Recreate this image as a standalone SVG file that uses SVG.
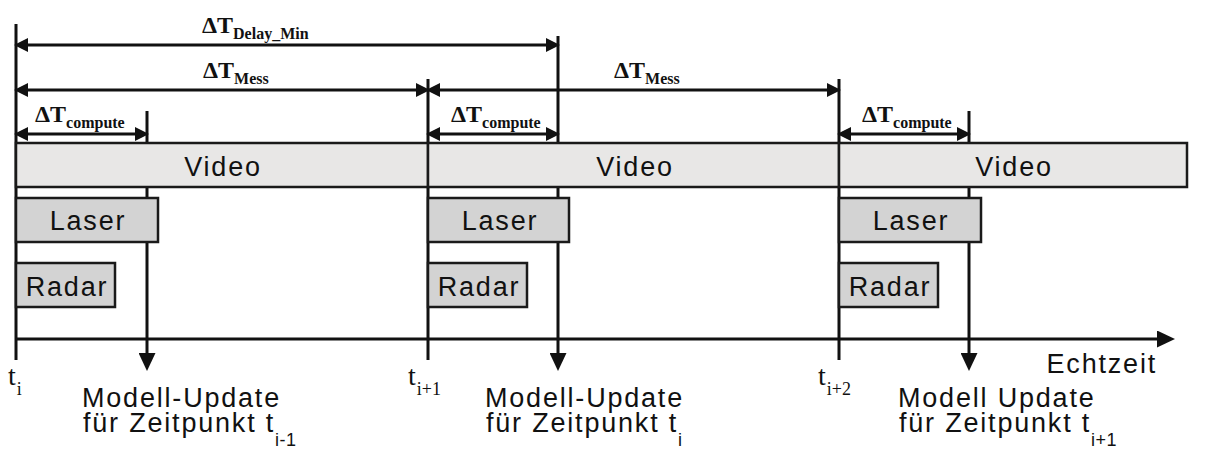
<svg xmlns="http://www.w3.org/2000/svg" width="1205" height="465" viewBox="0 0 1205 465">
<defs>
<marker id="ah" markerUnits="userSpaceOnUse" markerWidth="14" markerHeight="14" refX="6" refY="7" orient="auto-start-reverse"><path d="M0,0 L14,7 L0,14 z" fill="#111"/></marker>
<marker id="ahd" markerUnits="userSpaceOnUse" markerWidth="18" markerHeight="17" refX="9" refY="8.5" orient="auto"><path d="M0,0 L18,8.5 L0,17 z" fill="#111"/></marker>
<style>
.ln{stroke:#111;stroke-width:3;fill:none}
.dim{stroke:#111;stroke-width:3;fill:none;marker-start:url(#ah);marker-end:url(#ah)}
.dn{stroke:#111;stroke-width:3;fill:none;marker-end:url(#ahd)}
.video{fill:#e8e7e6;stroke:#1a1a1a;stroke-width:2.5}
.sens{fill:#d3d3d3;stroke:#1a1a1a;stroke-width:2.5}
.bl{font-family:"Liberation Sans",Arial,sans-serif;font-size:27px;letter-spacing:1.8px;fill:#111}
.c{text-anchor:middle}
.dt{font-family:"Liberation Serif","Times New Roman",serif;font-weight:bold;font-size:24px;fill:#111}
.dts{font-size:16px}
.tm{font-family:"Liberation Serif","Times New Roman",serif;font-size:28px;fill:#111}
.tms{font-size:18px}
.bs{font-size:18px;letter-spacing:0.5px}
</style>
</defs>
<g id="connectors">
<line class="ln" x1="16" y1="24" x2="16" y2="360"/>
<line class="ln" x1="428" y1="79" x2="428" y2="360"/>
<line class="ln" x1="839" y1="79" x2="839" y2="360"/>
<line class="dn" x1="147" y1="111" x2="147" y2="362"/>
<line class="dn" x1="558" y1="36" x2="558" y2="362"/>
<line class="dn" x1="969" y1="111" x2="969" y2="362"/>
<line class="ln" x1="16" y1="339" x2="1166" y2="339" style="marker-end:url(#ahd)"/>
<line class="dim" x1="22" y1="45" x2="552" y2="45"/>
<line class="dim" x1="22" y1="90" x2="422" y2="90"/>
<line class="dim" x1="434" y1="90" x2="833" y2="90"/>
<line class="dim" x1="22" y1="134" x2="141" y2="134"/>
<line class="dim" x1="434" y1="134" x2="552" y2="134"/>
<line class="dim" x1="845" y1="134" x2="963" y2="134"/>
</g>
<g id="video1"><rect class="video" x="16" y="143" width="412" height="44"/><text class="bl c" x="223" y="176">Video</text></g>
<g id="video2"><rect class="video" x="428" y="143" width="411" height="44"/><text class="bl c" x="635" y="176">Video</text></g>
<g id="video3"><rect class="video" x="839" y="143" width="348" height="44"/><text class="bl c" x="1014" y="176">Video</text></g>
<g id="laser1"><rect class="sens" x="16" y="198" width="142" height="44"/><text class="bl c" x="88" y="230">Laser</text></g>
<g id="laser2"><rect class="sens" x="428" y="198" width="141" height="44"/><text class="bl c" x="500" y="230">Laser</text></g>
<g id="laser3"><rect class="sens" x="839" y="198" width="142" height="44"/><text class="bl c" x="911" y="230">Laser</text></g>
<g id="radar1"><rect class="sens" x="16" y="263" width="99" height="44"/><text class="bl c" x="67" y="296">Radar</text></g>
<g id="radar2"><rect class="sens" x="428" y="263" width="99" height="44"/><text class="bl c" x="479" y="296">Radar</text></g>
<g id="radar3"><rect class="sens" x="839" y="263" width="99" height="44"/><text class="bl c" x="890" y="296">Radar</text></g>
<g id="labels">
<text class="dt" x="202" y="33">ΔT<tspan class="dts" dy="6">Delay_Min</tspan></text>
<text class="dt" x="203" y="78">ΔT<tspan class="dts" dy="6">Mess</tspan></text>
<text class="dt" x="614" y="78">ΔT<tspan class="dts" dy="6">Mess</tspan></text>
<text class="dt" x="35" y="122">ΔT<tspan class="dts" dy="6">compute</tspan></text>
<text class="dt" x="451" y="122">ΔT<tspan class="dts" dy="6">compute</tspan></text>
<text class="dt" x="862" y="122">ΔT<tspan class="dts" dy="6">compute</tspan></text>
<text class="tm" x="8" y="385">t<tspan class="tms" dx="1" dy="10">i</tspan></text>
<text class="tm" x="408" y="385">t<tspan class="tms" dx="1" dy="10">i+1</tspan></text>
<text class="tm" x="818" y="385">t<tspan class="tms" dx="1" dy="10">i+2</tspan></text>
<text class="bl" x="1157" y="373" text-anchor="end">Echtzeit</text>
<text class="bl" x="82" y="407">Modell-Update</text>
<text class="bl" x="83" y="432">für Zeitpunkt t<tspan class="bs" dy="14">i-1</tspan></text>
<text class="bl" x="485" y="407">Modell-Update</text>
<text class="bl" x="486" y="432">für Zeitpunkt t<tspan class="bs" dy="14">i</tspan></text>
<text class="bl" x="898" y="407">Modell Update</text>
<text class="bl" x="899" y="432">für Zeitpunkt t<tspan class="bs" dy="14">i+1</tspan></text>
</g>
</svg>
